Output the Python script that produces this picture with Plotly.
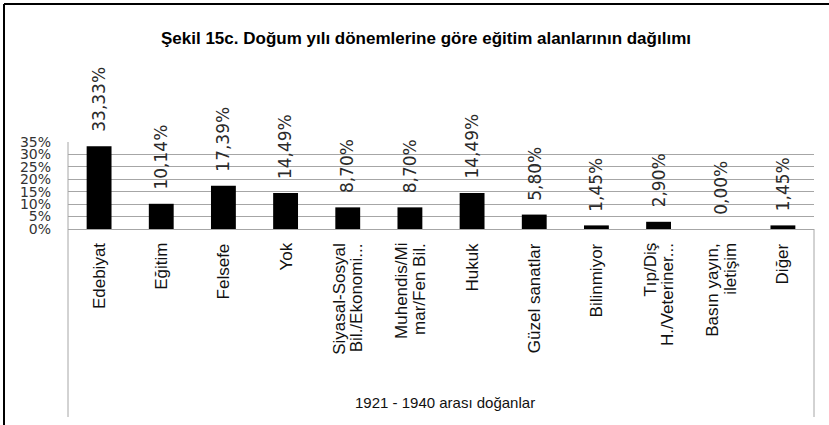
import plotly.graph_objects as go

categories = ["Edebiyat", "Eğitim", "Felsefe", "Yok", "Siyasal-Sosyal<br>Bil./Ekonomi...",
              "Muhendis/Mi<br>mar/Fen Bil.", "Hukuk", "Güzel sanatlar", "Bilinmiyor",
              "Tıp/Diş<br>H./Veteriner...", "Basın yayın,<br>iletişim", "Diğer"]
values = [33.33, 10.14, 17.39, 14.49, 8.70, 8.70, 14.49, 5.80, 1.45, 2.90, 0.00, 1.45]
y_ticks = [0, 5, 10, 15, 20, 25, 30, 35]
y_tick_labels = ["0%", "5%", "10%", "15%", "20%", "25%", "30%", "35%"]
title_text = "Şekil 15c. Doğum yılı dönemlerine göre eğitim alanlarının dağılımı"
x_title = "1921 - 1940 arası doğanlar"

labels = [f"{v:.2f}".replace(".", ",") + "%" for v in values]

W, H = 829, 425
L, R, T, B = 68, 15, 142, 196
PW, PH = W - L - R, H - T - B


def px_x(x):
    return (x - L) / PW


def px_y(y):
    return (H - B - y) / PH


fig = go.Figure()
fig.add_trace(go.Bar(x=categories, y=values, marker=dict(color="black", line=dict(width=0)),
                     width=0.4, hoverinfo="skip"))

for c, v, t in zip(categories, values, labels):
    fig.add_annotation(x=c, y=v, text=t, textangle=-90, showarrow=False,
                       yanchor="bottom", xanchor="center", yshift=12,
                       font=dict(family="DejaVu Sans", size=17, color="#2a2a2a"))

for c in categories:
    lines = c.split("<br>")
    n = len(lines)
    for i, ln in enumerate(lines):
        fig.add_annotation(x=c, y=0, text=ln, textangle=-90, showarrow=False, align="center",
                           yanchor="top", xanchor="center", yshift=-12,
                           xshift=(i - (n - 1) / 2) * 18,
                           font=dict(family="Liberation Sans", size=17, color="#111111"))

fig.add_annotation(xref="paper", yref="paper", x=px_x(445), y=px_y(402), text=x_title,
                   showarrow=False, xanchor="center", yanchor="middle",
                   font=dict(family="Liberation Sans", size=15, color="#111111"))

fig.update_layout(
    width=W, height=H,
    margin=dict(l=L, r=R, t=T, b=B, autoexpand=False),
    paper_bgcolor="white", plot_bgcolor="white",
    showlegend=False, bargap=0.6,
    title=dict(text=title_text, x=426 / W, xanchor="center", y=1 - 38 / H, yanchor="middle",
               font=dict(family="Liberation Sans", size=17, color="black", weight="bold")),
    xaxis=dict(type="category", showgrid=False, ticks="", showticklabels=False,
               showline=True, linecolor="#a6a6a6", linewidth=1, automargin=False),
    yaxis=dict(range=[0, 35], tickvals=y_ticks, ticktext=y_tick_labels, automargin=False,
               showgrid=True, gridcolor="#a6a6a6", gridwidth=1, zeroline=False,
               showline=False, ticks="", ticklabelstandoff=16,
               tickfont=dict(family="DejaVu Sans", size=14, color="#333333")),
)

# category-area side lines
fig.add_shape(type="line", xref="paper", yref="paper", x0=0, x1=0, y0=1, y1=px_y(417),
              line=dict(color="#a6a6a6", width=1))
fig.add_shape(type="line", xref="paper", yref="paper", x0=1, x1=1, y0=0, y1=px_y(417),
              line=dict(color="#a6a6a6", width=1))
# outer frame (left and top edges)
fig.add_shape(type="line", xref="paper", yref="paper", x0=px_x(4), x1=px_x(4), y0=px_y(4), y1=px_y(425),
              line=dict(color="black", width=2))
fig.add_shape(type="line", xref="paper", yref="paper", x0=px_x(4), x1=px_x(829), y0=px_y(4), y1=px_y(4),
              line=dict(color="black", width=2))

fig.write_html("out.html", config={"displayModeBar": False},
               post_script="document.body.style.margin='0';document.body.style.padding='0';")
